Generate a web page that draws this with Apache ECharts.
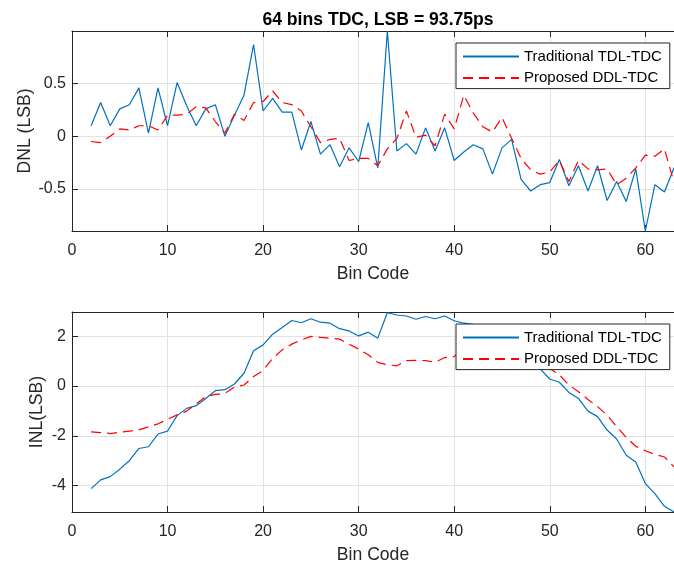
<!DOCTYPE html>
<html>
<head>
<meta charset="utf-8">
<script src="https://cdn.jsdelivr.net/npm/echarts@6/dist/echarts.min.js"></script>
<style>
html,body{margin:0;padding:0;background:#fff;}
#chart{width:674px;height:567px;}
</style>
</head>
<body>
<div id="chart"></div>
<script>
// Bin codes
var bins = [2,3,4,5,6,7,8,9,10,11,12,13,14,15,16,17,18,19,20,21,22,23,24,25,26,27,28,29,30,31,32,33,
  34,35,36,37,38,39,40,41,42,43,44,45,46,47,48,49,50,51,52,53,54,55,56,57,58,59,60,61,62,63];

// DNL (LSB)
var dnlTraditional = [0.10,0.32,0.10,0.26,0.30,0.46,0.03,0.46,0.10,0.51,0.29,0.10,0.26,0.30,0.00,0.20,0.39,0.87,0.24,0.36,0.23,0.23,
  -0.13,0.14,-0.17,-0.08,-0.29,-0.11,-0.24,0.13,-0.30,1.00,-0.14,-0.07,-0.17,0.08,-0.14,0.08,-0.23,-0.15,-0.08,-0.12,
  -0.36,-0.11,-0.03,-0.41,-0.52,-0.46,-0.44,-0.22,-0.47,-0.28,-0.52,-0.28,-0.61,-0.43,-0.62,-0.31,-0.90,-0.46,-0.53,-0.30];
var dnlProposed = [-0.05,-0.06,0.00,0.07,0.06,0.10,0.10,0.06,0.20,0.20,0.21,0.28,0.27,0.14,0.03,0.21,0.15,0.32,0.33,0.43,0.32,0.30,
  0.24,0.09,-0.06,-0.03,-0.02,-0.23,-0.21,-0.21,-0.28,-0.12,-0.02,0.24,-0.01,0.01,-0.09,0.21,0.07,0.39,0.22,0.09,
  0.04,0.18,-0.02,-0.21,-0.32,-0.36,-0.34,-0.23,-0.43,-0.23,-0.31,-0.32,-0.31,-0.46,-0.40,-0.30,-0.18,-0.19,-0.12,-0.44];

// INL (LSB)
var inlTraditional = [-4.12,-3.77,-3.64,-3.34,-3.00,-2.51,-2.44,-1.93,-1.81,-1.19,-0.90,-0.79,-0.50,-0.19,-0.15,0.08,0.51,1.41,1.65,2.08,2.35,2.63,
  2.54,2.70,2.56,2.52,2.30,2.21,2.01,2.16,1.92,2.94,2.85,2.81,2.68,2.79,2.70,2.81,2.62,2.52,2.47,2.38,
  2.06,1.98,1.98,1.60,1.12,0.69,0.28,0.15,-0.26,-0.50,-1.01,-1.23,-1.77,-2.13,-2.78,-3.05,-3.92,-4.32,-4.83,-5.06];
var inlProposed = [-1.84,-1.87,-1.91,-1.86,-1.81,-1.76,-1.64,-1.52,-1.34,-1.16,-1.01,-0.72,-0.43,-0.34,-0.30,-0.05,0.04,0.38,0.62,1.11,1.45,1.68,
  1.85,1.99,1.95,1.92,1.88,1.68,1.48,1.25,0.95,0.85,0.81,1.02,1.03,1.02,0.95,1.14,1.18,1.56,1.76,1.83,
  1.86,2.02,1.99,1.77,1.43,1.06,0.70,0.45,0.04,-0.23,-0.54,-0.83,-1.17,-1.64,-2.07,-2.42,-2.60,-2.75,-2.85,-3.25];

// Tick labels
var xTicks = [0,10,20,30,40,50,60];
var dnlTicks = [-0.5,0,0.5];
var inlTicks = [-4,-2,0,2];

var titleText = '64 bins TDC, LSB = 93.75ps';
var nameTrad = 'Traditional TDL-TDC';
var nameProp = 'Proposed DDL-TDC';

function pairs(arr){ return bins.map(function(b,i){ return [b, arr[i]]; }); }

var FONT = '"Liberation Sans", Arial, Helvetica, sans-serif';
var AX = '#262626';
var GRIDC = '#e3e3e3';

function xAx(gi, pos, showLabel){
  return {
    type:'value', gridIndex:gi, position:pos, min:0, max:63,
    name: showLabel ? 'Bin Code' : '', nameLocation:'middle', nameGap:34, nameMoveOverlap:false,
    nameTextStyle:{fontFamily:FONT, fontSize:17.6, color:AX},
    axisLine:{show:true, onZero:false, lineStyle:{color:AX, width:1}},
    axisTick:{show:true, inside:true, length:6, customValues:xTicks, lineStyle:{color:AX}},
    axisLabel:{show:showLabel, customValues:xTicks, margin:12, fontFamily:FONT, fontSize:16, color:AX},
    splitLine:{show:showLabel, lineStyle:{color:GRIDC, width:1}}
  };
}
function yAx(gi, mn, mx, ticks, name, gap){
  return {
    type:'value', gridIndex:gi, min:mn, max:mx,
    name:name, nameLocation:'middle', nameGap:gap, nameRotate:90, nameMoveOverlap:false,
    nameTextStyle:{fontFamily:FONT, fontSize:17.6, color:AX},
    axisLine:{show:true, onZero:false, lineStyle:{color:AX, width:1}},
    axisTick:{show:true, inside:true, length:6, customValues:ticks, lineStyle:{color:AX}},
    axisLabel:{customValues:ticks, margin:6, fontFamily:FONT, fontSize:16, color:AX},
    splitLine:{show:true, lineStyle:{color:GRIDC, width:1}}
  };
}
function legendAt(top){
  return {
    left:456, top:top, orient:'vertical',
    data:[nameTrad, nameProp],
    itemWidth:56, itemHeight:14, itemGap:6.6,
    padding:[6,8,3,6],
    backgroundColor:'#ffffff', borderColor:AX, borderWidth:1, borderRadius:0,
    itemStyle:{opacity:0, borderWidth:0},
    textStyle:{fontFamily:FONT, fontSize:15, lineHeight:15, color:'#000'},
    selectedMode:false
  };
}
function lineSeries(name, xi, yi, arr, color, dashed){
  return {
    name:name, type:'line', xAxisIndex:xi, yAxisIndex:yi,
    data:pairs(arr), symbol:'none', showSymbol:false,
    lineStyle:{color:color, width:1.2, type: dashed ? [10,6] : 'solid'},
    itemStyle:{color:color},
    z:3
  };
}

var chart = echarts.init(document.getElementById('chart'), null, {renderer:'canvas'});
chart.setOption({
  animation:false,
  backgroundColor:'#ffffff',
  title:{text:titleText, left:373, top:6, textAlign:'center',
    textStyle:{fontFamily:FONT, fontSize:17.6, fontWeight:'bold', color:'#000'}},
  legend:[legendAt(43), legendAt(324)],
  grid:[
    {left:72, top:31, width:603, height:200},
    {left:72, top:312, width:603, height:200}
  ],
  xAxis:[xAx(0,'bottom',true), xAx(0,'top',false), xAx(1,'bottom',true), xAx(1,'top',false)],
  yAxis:[yAx(0,-0.9,1.0,dnlTicks,'DNL (LSB)',38), yAx(1,-5.06,2.97,inlTicks,'INL(LSB)',26)],
  series:[
    lineSeries(nameTrad,0,0,dnlTraditional,'#0072BD',false),
    lineSeries(nameProp,0,0,dnlProposed,'#FF0000',true),
    lineSeries(nameTrad,2,1,inlTraditional,'#0072BD',false),
    lineSeries(nameProp,2,1,inlProposed,'#FF0000',true)
  ]
});
</script>
</body>
</html>
